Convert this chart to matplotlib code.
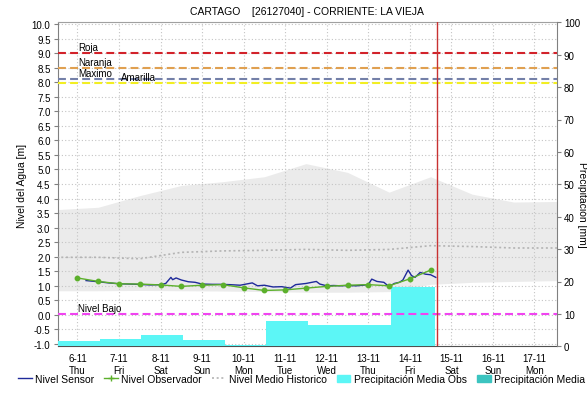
import numpy as np
import pandas as pd
import matplotlib
matplotlib.use('Agg')
import matplotlib.pyplot as plt
from matplotlib.lines import Line2D
from matplotlib.patches import Patch

plt.rcParams['font.family'] = ['Liberation Sans', 'DejaVu Sans']

inicio = pd.Timestamp('2014-11-06 00:00')

# Nivel sensor (horas desde inicio, metros)
sensor_horas = [5, 12, 18, 24, 30, 35, 42, 48, 51, 54, 55, 57, 60, 64, 68, 72,
                78, 83, 88, 94, 101, 104, 108, 113, 118, 123, 126, 132, 138, 140,
                144, 148, 152, 156, 161, 165, 168, 170, 173, 177, 180, 183, 186,
                188, 191, 193, 195, 198, 201, 204, 207]
sensor_nivel = [1.18, 1.14, 1.10, 1.07, 1.06, 1.05, 1.03, 1.04, 1.08, 1.29, 1.21,
                1.27, 1.20, 1.14, 1.12, 1.06, 1.05, 1.05, 1.04, 1.02, 1.10, 1.00,
                1.02, 0.96, 0.97, 0.92, 1.04, 1.08, 1.15, 1.06, 1.00, 1.01, 1.00,
                1.01, 1.00, 1.02, 1.04, 1.23, 1.15, 1.12, 0.97, 1.08, 1.12, 1.20,
                1.54, 1.35, 1.29, 1.46, 1.40, 1.38, 1.29]

# Nivel observador (dos lecturas diarias)
obs_horas = [0, 12, 24, 36, 48, 60, 72, 84, 96, 108, 120, 132, 144, 156, 168,
             180, 192, 204]
obs_nivel = [1.27, 1.15, 1.07, 1.06, 1.03, 0.98, 1.02, 1.04, 0.93, 0.84, 0.86,
             0.92, 0.98, 1.02, 1.04, 1.00, 1.24, 1.54]

# Historico: rango y nivel medio
hist_horas = [-12, 12, 36, 60, 84, 108, 132, 156, 180, 204, 228, 252, 278]
hist_max = [3.62, 3.70, 4.10, 4.45, 4.58, 4.75, 5.20, 4.90, 4.22, 4.75, 4.15, 3.88, 3.90]
hist_min = [0.83, 0.83, 0.84, 0.83, 0.82, 0.80, 0.78, 0.78, 0.80, 1.05, 1.12, 1.15, 1.18]
hist_medio = [1.98, 1.98, 1.93, 2.15, 2.20, 2.22, 2.25, 2.22, 2.25, 2.38, 2.35, 2.30, 2.30]

# Precipitacion media observada (mm, bloques diarios)
precip_horas = [-35, -11, 13, 37, 61, 85, 109, 133, 157, 181]
precip_fin = 206.5
precip_mm = [10.0, 1.5, 2.4, 3.5, 2.0, 0.4, 7.8, 6.6, 6.6, 18.4]

# Umbrales (m)
umbral_nombres = ['Roja', 'Naranja', 'Maximo', 'Amarilla', 'Nivel Bajo']
umbral_valores = [9.0, 8.5, 8.1, 7.98, 0.04]
umbral_colores = ['#d2222a', '#e0a050', '#7480a8', '#f2ee22', '#f044f0']
umbral_texto_h = [0, 0, 0, 24.5, 0]

hora_actual = 207.6


def t(horas):
    return inicio + pd.to_timedelta(horas, unit='h')


fig = plt.figure(figsize=(5.87, 4.02), dpi=100)
rect = [57.5 / 587, (402 - 347.3) / 402, (557 - 57.5) / 587, (347.3 - 23.3) / 402]
ax = fig.add_axes(rect)
axp = ax.twinx()
axl = fig.add_axes(rect, sharex=ax, sharey=ax)
ax.set_zorder(1)
axp.set_zorder(2)
axl.set_zorder(3)
axp.patch.set_visible(False)
axl.patch.set_visible(False)
axl.axis('off')

# banda historica
ax.fill_between(t(hist_horas), hist_min, hist_max, color='#ebebeb', lw=0)
ax.grid(True, ls=(0, (1, 2)), color='#c4c4c4', lw=0.8)

# precipitacion
px = t(precip_horas + [precip_fin])
py = precip_mm + [precip_mm[-1]]
axp.fill_between(px, py, step='post', color='#5cf6f6', lw=0)
axp.set_ylim(0, 100)
axp.set_yticks(np.arange(0, 101, 10))
axp.tick_params(axis='y', length=3, labelsize=7, color='#808080', pad=2)
for s in ['left', 'top', 'bottom']:
    axp.spines[s].set_visible(False)
axp.spines['right'].set_color('#808080')

# niveles
axl.plot(t(hist_horas), hist_medio, color='#b4b4b4', lw=1.2, ls=(0, (1.2, 1.6)))
for nombre, v, c, dh in zip(umbral_nombres, umbral_valores, umbral_colores, umbral_texto_h):
    axl.axhline(v, color=c, lw=1.5, dashes=(3.8, 2.0))
    axl.text(t(0.5 + dh), v + 0.04, nombre, fontsize=7, va='bottom', ha='left')
axl.plot(t(sensor_horas), sensor_nivel, color='#1f2a9a', lw=1.0)
axl.plot(t(obs_horas), obs_nivel, color='#5cb02c', lw=1.0, marker='o', ms=3.2)
axl.axvline(t(hora_actual), color='#c83232', lw=1.0)

ax.set_xlim(t(-11.5), t(277))
ax.set_ylim(-1.08, 10.06)
ax.set_yticks(np.arange(-1.0, 10.01, 0.5))
ax.set_yticklabels([f'{v:.1f}' for v in np.arange(-1.0, 10.01, 0.5)])
dias = pd.date_range('2014-11-06', '2014-11-17', freq='D')
ax.set_xticks(dias)
ax.set_xticklabels([f'{d.day}-{d.month}\n{d.strftime("%a")}' for d in dias])
ax.tick_params(axis='x', length=0, labelsize=7, pad=5)
ax.tick_params(axis='y', length=3, labelsize=7, color='#808080', pad=2)
ax.spines['left'].set_color('#808080')
ax.spines['top'].set_color('#a0a0a0')
ax.spines['right'].set_visible(False)
ax.spines['bottom'].set_color('#505050')
ax.spines['bottom'].set_linestyle((0, (1, 1)))

fig.text(307 / 587, 1 - 12 / 402, 'CARTAGO    [26127040] - CORRIENTE: LA VIEJA',
         ha='center', va='center', fontsize=7.5)
fig.text(22 / 587, 1 - 186 / 402, 'Nivel del Agua [m]', rotation=90,
         ha='center', va='center', fontsize=7.5)
fig.text(582 / 587, 1 - 205 / 402, 'Precipitación [mm]', rotation=270,
         ha='center', va='center', fontsize=7.5)

handles = [
    Line2D([], [], color='#1f2a9a', lw=1.0),
    Line2D([], [], color='#5cb02c', lw=1.0, marker='+', ms=4),
    Line2D([], [], color='#b4b4b4', lw=1.2, ls=(0, (1.2, 1.6))),
    Patch(color='#5cf6f6'),
    Patch(color='#3cc4c0'),
]
etiquetas = ['Nivel Sensor', 'Nivel Observador', 'Nivel Medio Historico',
             'Precipitación Media Obs', 'Precipitación Media Pronosticada']
fig.legend(handles, etiquetas, loc='center left', bbox_to_anchor=(18 / 587, 1 - 380 / 402),
           ncol=5, frameon=False, fontsize=7.5, handlelength=1.3, handletextpad=0.3,
           columnspacing=1.0, borderaxespad=0, borderpad=0)

fig.savefig('out.png', dpi=100)
